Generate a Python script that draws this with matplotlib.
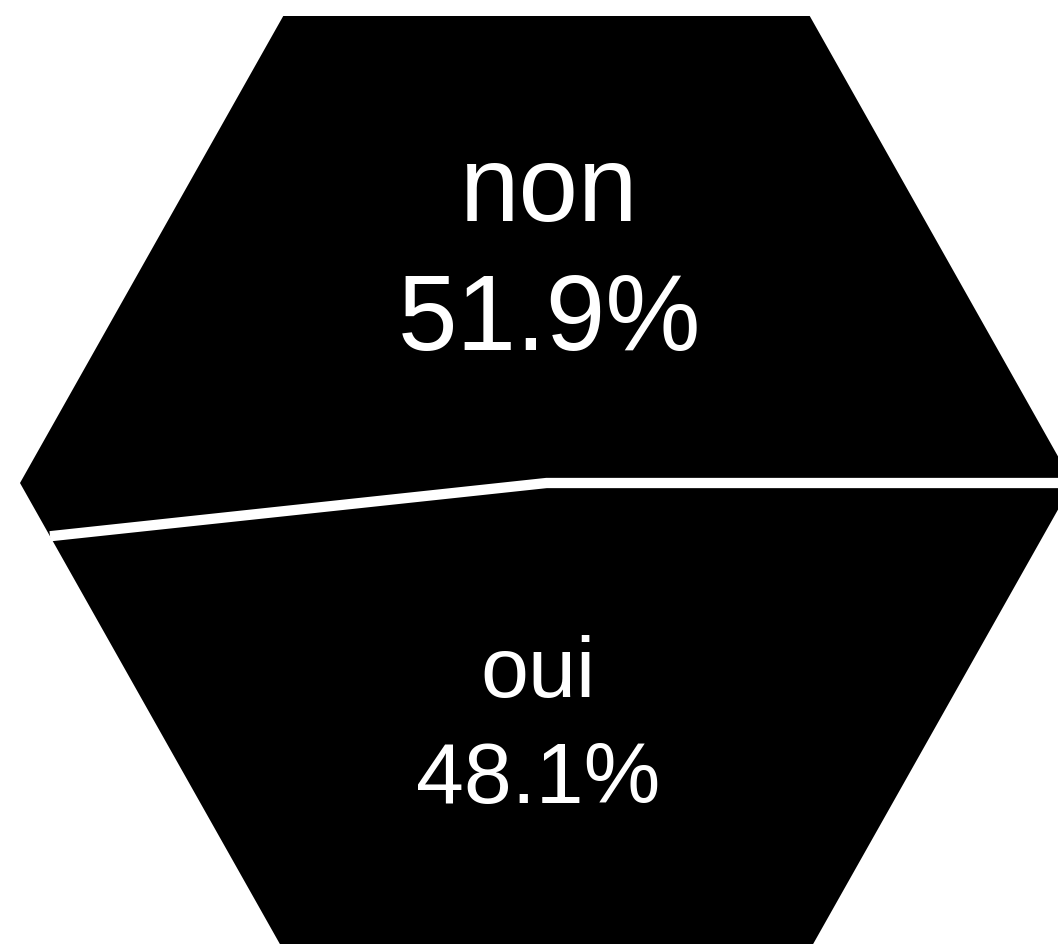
import numpy as np
import matplotlib.pyplot as plt
from matplotlib.patches import Polygon

# data
labels = ["non", "oui"]
shares = [51.9, 48.1]
label_sizes = [77, 62]          # pt, the bigger slice gets the bigger text
label_pos = [(549, 221, 350), (538, 697, 803)]   # x centre, baseline line 1, baseline line 2

W, H = 1058, 944
cx, cy = 546.5, 483.0           # hexagon centre (pixels)
rx, ry = 526.5, 467.0           # half width / half height

# flat-top hexagon, counter-clockwise from the right vertex (y grows downwards)
verts = np.array([
    [cx + rx, cy],
    [cx + rx / 2, cy - ry],
    [cx - rx / 2, cy - ry],
    [cx - rx, cy],
    [cx - rx / 2, cy + ry],
    [cx + rx / 2, cy + ry],
])


def perimeter_point(u):
    """point on the hexagon outline, u in [0, 6] (one unit per side)"""
    k = int(np.floor(u)) % 6
    f = u - np.floor(u)
    a, b = verts[k], verts[(k + 1) % 6]
    return a + f * (b - a)


def slice_polygon(u0, u1):
    pts = [[cx, cy], perimeter_point(u0)]
    for k in range(int(np.floor(u0)) + 1, int(np.ceil(u1))):
        pts.append(verts[k % 6])
    pts.append(perimeter_point(u1))
    return np.array(pts)


fig = plt.figure(figsize=(W / 100, H / 100), dpi=100)
ax = fig.add_axes([0, 0, 1, 1])
ax.set_xlim(0, W)
ax.set_ylim(H, 0)
ax.axis("off")

# every centre triangle has the same area, so area share -> outline position
frac = np.array(shares) / sum(shares)
bounds = np.concatenate([[0], np.cumsum(frac) * 6])

for i in range(len(shares)):
    poly = slice_polygon(bounds[i], bounds[i + 1])
    ax.add_patch(Polygon(poly, closed=True, facecolor="black", edgecolor="none"))

# white separators between slices
p_start = perimeter_point(bounds[0])
p_split = perimeter_point(bounds[1])
ax.plot([p_split[0], cx, p_start[0]], [p_split[1], cy, p_start[1]],
        color="white", lw=7.4, solid_joinstyle="miter", solid_capstyle="butt")

for lab, val, size, (x, b1, b2) in zip(labels, shares, label_sizes, label_pos):
    ax.text(x, b1, lab, color="white", fontsize=size, family="Liberation Sans",
            ha="center", va="baseline")
    ax.text(x, b2, f"{val:.1f}%", color="white", fontsize=size, family="Liberation Sans",
            ha="center", va="baseline")

fig.savefig("out.png", dpi=100, facecolor="white")
